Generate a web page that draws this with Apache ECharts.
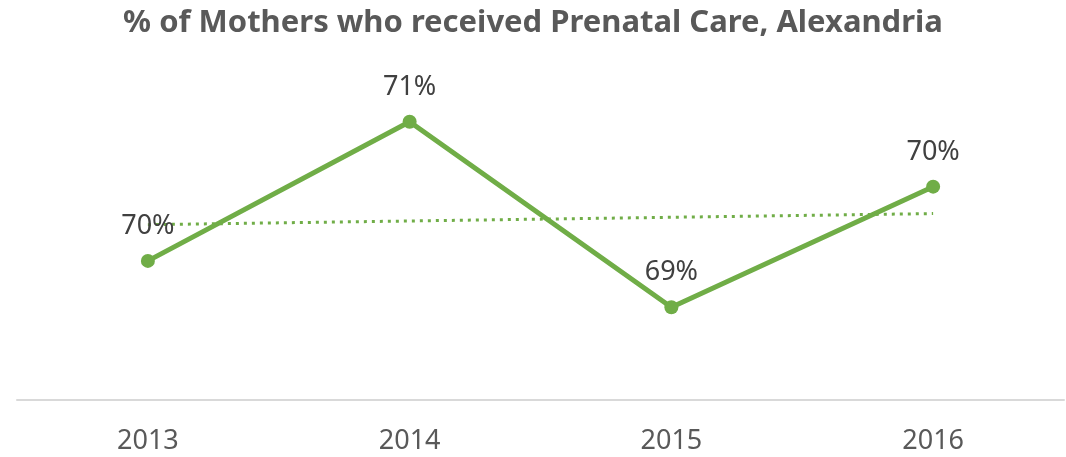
<!DOCTYPE html>
<html>
<head>
<meta charset="utf-8">
<script src="https://cdn.jsdelivr.net/npm/echarts@6/dist/echarts.min.js"></script>
<style>
  html, body { margin: 0; padding: 0; background: #fff; }
  #chart { width: 1066px; height: 457px; }
</style>
</head>
<body>
<div id="chart"></div>
<script>
var dom = document.getElementById("chart");
var myChart = echarts.init(dom);

// data
var years = ['2013', '2014', '2015', '2016'];
var prenatalPct = [69.5, 71.0, 69.0, 70.3];
// linear trend, end points only
var trendPct = [69.89, null, null, 70.01];

var green = '#70AD47';

var option = {
    animation: false,
    title: {
        text: '% of Mothers who received Prenatal Care, Alexandria',
        left: 'center',
        top: 3,
        textStyle: {
            fontFamily: 'Noto Sans',
            fontWeight: 'bold',
            fontSize: 31,
            color: '#595959'
        }
    },
    grid: {
        left: 17,
        right: 2,
        top: 29,
        bottom: 57
    },
    xAxis: {
        type: 'category',
        data: years,
        boundaryGap: true,
        axisLine: { lineStyle: { color: '#D9D9D9', width: 2 } },
        axisTick: { show: false },
        axisLabel: {
            margin: 28,
            fontFamily: 'Noto Sans',
            fontSize: 27,
            color: '#595959'
        }
    },
    yAxis: {
        type: 'value',
        min: 68,
        max: 72,
        show: false,
        splitLine: { show: false }
    },
    series: [{
        name: 'Prenatal Care',
        type: 'line',
        data: prenatalPct,
        symbol: 'circle',
        symbolSize: 14,
        itemStyle: { color: green },
        lineStyle: { color: green, width: 5 },
        label: {
            show: true,
            position: 'top',
            distance: 14,
            fontFamily: 'Noto Sans',
            fontSize: 27,
            color: '#404040',
            formatter: function (p) { return Math.round(p.value) + '%'; }
        },
        z: 3
    }, {
        name: 'Trend',
        type: 'line',
        data: trendPct,
        connectNulls: true,
        symbol: 'none',
        lineStyle: { color: green, width: 3, type: [3, 5] },
        z: 2
    }]
};

if (option && typeof option === 'object') {
    myChart.setOption(option);
}
</script>
</body>
</html>
